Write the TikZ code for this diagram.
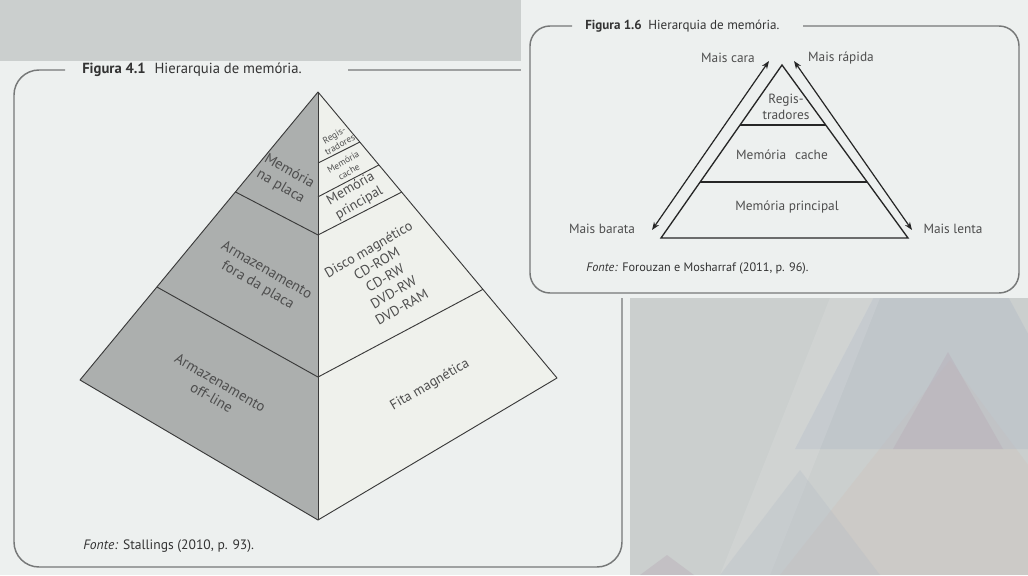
\documentclass[tikz,border=0pt]{standalone}
\usepackage{fontspec}
\setmainfont{PT Sans}
\usetikzlibrary{arrows.meta,calc}
\definecolor{bgcol}{RGB}{203,207,206}
\definecolor{pagecol}{RGB}{237,240,239}
\definecolor{facecol}{RGB}{172,175,174}
\definecolor{litecol}{RGB}{239,241,236}
\definecolor{inkcol}{RGB}{58,58,58}
\definecolor{txtcol}{RGB}{78,78,78}
\definecolor{framecol}{RGB}{118,120,120}
\definecolor{tri1}{RGB}{176,184,198}
\definecolor{tri2}{RGB}{184,170,182}
\definecolor{tri3}{RGB}{206,196,188}
\tikzset{
  frm/.style={draw=framecol,line width=1.1pt},
  ed/.style={draw=inkcol,line width=0.7pt},
  lbl/.style={text=txtcol,align=center,inner sep=0pt},
  lf/.style={lbl,rotate=-30,font=\fontsize{11}{13}\selectfont},
  rf/.style={lbl,rotate=30,font=\fontsize{10.5}{12.5}\selectfont},
  rs/.style={lbl,rotate=30,font=\fontsize{7}{8.5}\selectfont},
  captxt/.style={anchor=west,inner sep=0pt,text=black!80},
  tl/.style={lbl,font=\fontsize{10}{12}\selectfont},
  ar/.style={{Stealth[length=6pt,width=4.5pt]}-{Stealth[length=6pt,width=4.5pt]},draw=black!85,line width=0.9pt},
  deco/.style={opacity=0.38}
}
\begin{document}
\begin{tikzpicture}[x=0.75pt,y=-0.75pt]
  \useasboundingbox (0,0) rectangle (1028,575);
  \fill[bgcol] (0,0) rectangle (1028,575);
  \begin{scope}
    \clip (630,298) rectangle (1028,575);
    \fill[tri3,deco] (780,575) -- (950,360) -- (1110,575) -- cycle;
    \fill[tri1,deco] (795,449) -- (940,170) -- (1090,449) -- cycle;
    \fill[tri2,deco] (893,449) -- (948,352) -- (1003,449) -- cycle;
    \fill[white,opacity=0.1] (720,575) -- (830,298) -- (880,298) -- (770,575) -- cycle;
    \fill[tri2,deco] (640,575) -- (667,555) -- (694,575) -- cycle;
    \fill[tri1,opacity=0.25] (720,575) -- (800,470) -- (880,575) -- cycle;
  \end{scope}
  \fill[pagecol] (0,61) rectangle (630,575);

  % Figura 4.1
  \draw[frm,rounded corners=18.75pt] (65,70) -- (14,70) -- (14,567) -- (622,567) -- (622,70) -- (348,70);
  \node[captxt,font=\fontsize{11}{13}\selectfont] (cap1) at (82,70) {\textbf{Figura 4.1}\hspace{0.6em}Hierarquia de memória.};
  \coordinate (apex) at (318,92);
  \coordinate (lft) at (80,380);
  \coordinate (frt) at (318,520);
  \coordinate (rgt) at (557,378);
  \fill[facecol] (apex) -- (lft) -- (frt) -- cycle;
  \fill[litecol] (apex) -- (frt) -- (rgt) -- cycle;
  \draw[ed,line join=round] (apex) -- (lft) -- (frt) -- (rgt) -- cycle;
  \draw[ed] (apex) -- (frt);
  \foreach \t/\u in {0.347/0.334,0.677/0.666}{\draw[ed] ($(apex)!\t!(lft)$) -- ($(apex)!\u!(frt)$);}
  \foreach \t/\u in {0.166/0.175,0.245/0.255,0.334/0.35,0.666/0.69}{\draw[ed] ($(apex)!\t!(frt)$) -- ($(apex)!\u!(rgt)$);}
  \node[lf] (placa) at (285,179) {Memória\\na placa};
  \node[lf] (fora) at (262,278) {Armazenamento\\fora da placa};
  \node[lf] (offl) at (216,390) {Armazenamento\\off-line};
  \node[rs] (regs) at (337,140) {Regis-\\tradores};
  \node[rs] (cache) at (346,167) {Memória\\cache};
  \node[rf] (princ) at (355,196) {Memória\\principal};
  \node[rf] (disco) at (385,278) {Disco magnético\\CD-ROM\\CD-RW\\DVD-RW\\DVD-RAM};
  \node[rf] (fita) at (430,385) {Fita magnética};
  \node[captxt,font=\fontsize{10.2}{12}\selectfont] (fonte1) at (83,546) {\textit{Fonte:} Stallings (2010, p. 93).};

  % Figura 1.6
  \fill[pagecol] (521,0) rectangle (1028,298);
  \draw[frm,rounded corners=15pt] (572,26) -- (530,26) -- (530,293) -- (1019,293) -- (1019,26) -- (803,26);
  \node[captxt,font=\fontsize{9.8}{11}\selectfont] (cap2) at (585,26) {\textbf{Figura 1.6}\hspace{0.5em}Hierarquia de memória.};
  \coordinate (top) at (782,65);
  \coordinate (bl) at (661,238);
  \coordinate (br) at (908,238);
  \draw[draw=black!85,line width=1pt,line join=miter] (top) -- (bl) -- (br) -- cycle;
  \foreach \t in {0.347,0.676}{\draw[draw=black!85,line width=1pt] ($(top)!\t!(bl)$) -- ($(top)!\t!(br)$);}
  \coordinate (a1) at (652,230);
  \coordinate (a2) at (769,61);
  \coordinate (b1) at (794,61);
  \coordinate (b2) at (912,230);
  \draw[ar] (a1) -- (a2);
  \draw[ar] (b1) -- (b2);
  \node[tl] (regs2) at (786,107) {Regis-\\tradores};
  \node[tl] (cache2) at (782,155) {Memória\hspace{0.4em} cache};
  \node[tl] (princ2) at (787,207) {Memória principal};
  \node[tl] (cara) at (728,58) {Mais cara};
  \node[tl] (rapida) at (841,58) {Mais rápida};
  \node[tl] (barata) at (602,229) {Mais barata};
  \node[tl] (lenta) at (953,229) {Mais lenta};
  \node[captxt,font=\fontsize{9.2}{11}\selectfont] (fonte2) at (586,268) {\textit{Fonte:} Forouzan e Mosharraf (2011, p. 96).};
\end{tikzpicture}
\end{document}
